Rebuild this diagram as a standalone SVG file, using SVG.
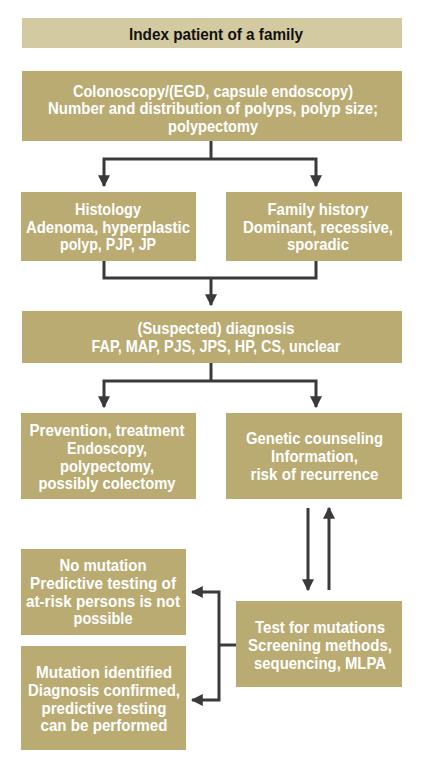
<svg xmlns="http://www.w3.org/2000/svg" width="423" height="771" viewBox="0 0 423 771">
<defs>
<style>
.box{fill:#B9AB72}
.top{fill:#D4CAA1}
.t{font-family:"Liberation Sans",Arial,sans-serif;font-size:16.5px;font-weight:bold;fill:#fff;text-anchor:middle}
.tk{font-family:"Liberation Sans",Arial,sans-serif;font-size:16px;font-weight:bold;fill:#111;text-anchor:middle}
.c{fill:none;stroke:#3a3a3a;stroke-width:3}
</style>
<marker id="ah" viewBox="0 0 10 10" refX="9" refY="5" markerWidth="4" markerHeight="4" markerUnits="strokeWidth" orient="auto-start-reverse">
<path d="M0,0 L10,5 L0,10 Z" fill="#3a3a3a"/>
</marker>
</defs>
<rect width="423" height="771" fill="#fff"/>
<g id="n-index">
<rect class="top" x="22" y="18" width="380" height="30"/>
<text class="tk" x="216" y="39.5" textLength="174" lengthAdjust="spacingAndGlyphs">Index patient of a family</text>
</g>
<g id="n-colonoscopy">
<rect class="box" x="22" y="71" width="380" height="70"/>
<text class="t" x="213" y="96.5" textLength="280" lengthAdjust="spacingAndGlyphs">Colonoscopy/(EGD, capsule endoscopy)</text>
<text class="t" x="213" y="114" textLength="330" lengthAdjust="spacingAndGlyphs">Number and distribution of polyps, polyp size;</text>
<text class="t" x="213" y="131.5" textLength="90" lengthAdjust="spacingAndGlyphs">polypectomy</text>
</g>
<g id="n-histology">
<rect class="box" x="21" y="192" width="175" height="69"/>
<text class="t" x="108" y="215" textLength="66" lengthAdjust="spacingAndGlyphs">Histology</text>
<text class="t" x="108" y="232.5" textLength="164" lengthAdjust="spacingAndGlyphs">Adenoma, hyperplastic</text>
<text class="t" x="108" y="250" textLength="96" lengthAdjust="spacingAndGlyphs">polyp, PJP, JP</text>
</g>
<g id="n-family">
<rect class="box" x="226" y="192" width="176" height="69"/>
<text class="t" x="318" y="215" textLength="101" lengthAdjust="spacingAndGlyphs">Family history</text>
<text class="t" x="318" y="232.5" textLength="150" lengthAdjust="spacingAndGlyphs">Dominant, recessive,</text>
<text class="t" x="318" y="250" textLength="62" lengthAdjust="spacingAndGlyphs">sporadic</text>
</g>
<g id="n-diagnosis">
<rect class="box" x="22" y="311" width="380" height="52"/>
<text class="t" x="216" y="334" textLength="157" lengthAdjust="spacingAndGlyphs">(Suspected) diagnosis</text>
<text class="t" x="216" y="352" textLength="249" lengthAdjust="spacingAndGlyphs">FAP, MAP, PJS, JPS, HP, CS, unclear</text>
</g>
<g id="n-prevention">
<rect class="box" x="21" y="413" width="175" height="86"/>
<text class="t" x="107" y="436" textLength="155" lengthAdjust="spacingAndGlyphs">Prevention, treatment</text>
<text class="t" x="107" y="454" textLength="80" lengthAdjust="spacingAndGlyphs">Endoscopy,</text>
<text class="t" x="107" y="471.5" textLength="94" lengthAdjust="spacingAndGlyphs">polypectomy,</text>
<text class="t" x="107" y="489" textLength="137" lengthAdjust="spacingAndGlyphs">possibly colectomy</text>
</g>
<g id="n-counseling">
<rect class="box" x="226" y="413" width="176" height="86"/>
<text class="t" x="314.5" y="444" textLength="137" lengthAdjust="spacingAndGlyphs">Genetic counseling</text>
<text class="t" x="314.5" y="462" textLength="87" lengthAdjust="spacingAndGlyphs">Information,</text>
<text class="t" x="314.5" y="479.5" textLength="128" lengthAdjust="spacingAndGlyphs">risk of recurrence</text>
</g>
<g id="n-nomutation">
<rect class="box" x="21" y="549" width="165" height="86"/>
<text class="t" x="103" y="571" textLength="87" lengthAdjust="spacingAndGlyphs">No mutation</text>
<text class="t" x="103" y="589" textLength="146" lengthAdjust="spacingAndGlyphs">Predictive testing of</text>
<text class="t" x="103" y="606.5" textLength="154" lengthAdjust="spacingAndGlyphs">at-risk persons is not</text>
<text class="t" x="103" y="624" textLength="59" lengthAdjust="spacingAndGlyphs">possible</text>
</g>
<g id="n-mutation">
<rect class="box" x="21" y="646" width="165" height="104"/>
<text class="t" x="104" y="678" textLength="136" lengthAdjust="spacingAndGlyphs">Mutation identified</text>
<text class="t" x="104" y="696" textLength="152" lengthAdjust="spacingAndGlyphs">Diagnosis confirmed,</text>
<text class="t" x="104" y="713.5" textLength="125" lengthAdjust="spacingAndGlyphs">predictive testing</text>
<text class="t" x="104" y="731" textLength="127" lengthAdjust="spacingAndGlyphs">can be performed</text>
</g>
<g id="n-test">
<rect class="box" x="236" y="601" width="166" height="86"/>
<text class="t" x="320" y="633" textLength="130" lengthAdjust="spacingAndGlyphs">Test for mutations</text>
<text class="t" x="320" y="651" textLength="144" lengthAdjust="spacingAndGlyphs">Screening methods,</text>
<text class="t" x="320" y="668.5" textLength="132" lengthAdjust="spacingAndGlyphs">sequencing, MLPA</text>
</g>
<g id="connectors">
<path class="c" d="M211,141 V159"/>
<path class="c" d="M104,186 V159 H316 V186" marker-start="url(#ah)" marker-end="url(#ah)"/>
<path class="c" d="M104,261 V278 H316 V261"/>
<path class="c" d="M211,278 V305" marker-end="url(#ah)"/>
<path class="c" d="M211,363 V381"/>
<path class="c" d="M104,407 V381 H316 V407" marker-start="url(#ah)" marker-end="url(#ah)"/>
<path class="c" d="M308,508 V590" marker-end="url(#ah)"/>
<path class="c" d="M329,590 V508" marker-end="url(#ah)"/>
<path class="c" d="M236,645 H219"/>
<path class="c" d="M192,592 H219 V700 H192" marker-start="url(#ah)" marker-end="url(#ah)"/>
</g>
</svg>
